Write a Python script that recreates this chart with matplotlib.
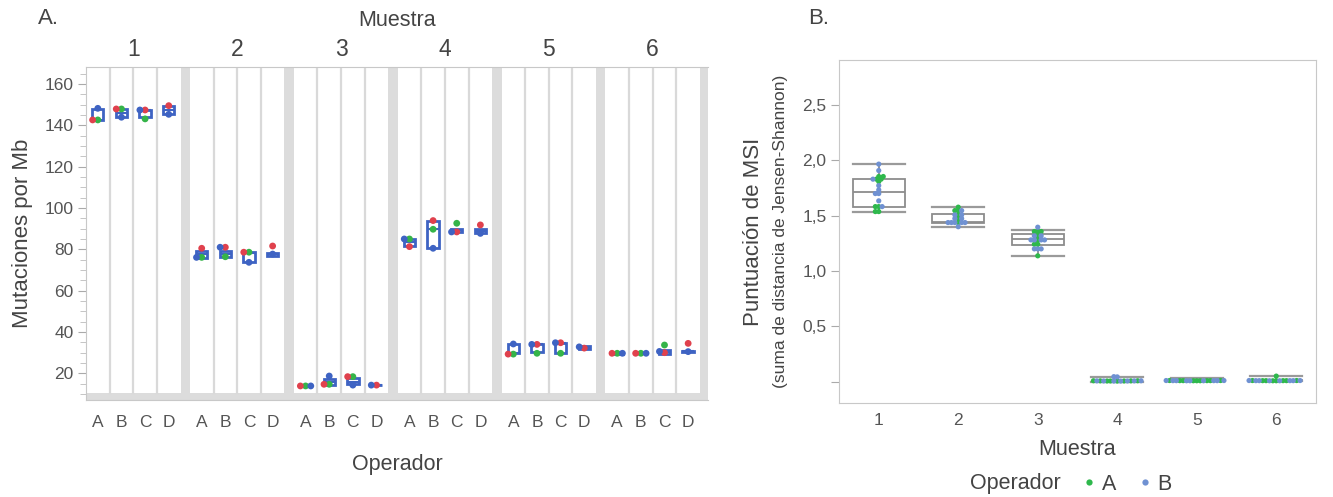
import numpy as np
import matplotlib
matplotlib.use("Agg")
import matplotlib.pyplot as plt
from matplotlib.lines import Line2D
from matplotlib.ticker import MultipleLocator, FuncFormatter

plt.rcParams['font.family'] = ['Liberation Sans', 'DejaVu Sans']

# ---------------- Panel A data: mutaciones por Mb ----------------
muestras = ['1', '2', '3', '4', '5', '6']
operadores_a = ['A', 'B', 'C', 'D']

# puntos por muestra (fila) y operador (columna); None = sin punto
pts_rojo = [[142.6, 147.9, 147.4, 149.5],
            [80.5, 81.0, 78.6, 81.6],
            [13.9, 14.7, 18.4, 14.3],
            [81.3, 93.9, 88.4, 91.8],
            [29.3, 34.0, 34.8, 32.2],
            [29.7, 29.7, 30.0, 34.5]]
pts_verde = [[142.6, 147.9, 143.1, None],
             [76.1, 76.4, 78.6, None],
             [13.9, 14.7, 18.4, None],
             [85.0, 89.7, 92.6, None],
             [29.3, 29.7, 29.7, None],
             [29.7, 29.7, 33.7, None]]
pts_azul = [[148.2, 143.9, 147.4, 145.3],
            [76.1, 81.0, 73.7, 77.7],
            [13.9, 18.7, 14.3, 14.3],
            [85.0, 80.5, 88.4, 87.7],
            [34.2, 34.0, 34.8, 32.8],
            [29.7, 29.7, 30.6, 30.5]]

# cajas: q1, mediana, q3
caja_q1 = [[142.6, 144.2, 144.2, 145.5],
           [75.8, 76.2, 74.0, 77.0],
           [13.9, 14.4, 14.6, 14.3],
           [81.8, 80.5, 88.3, 87.9],
           [29.7, 30.2, 30.0, 31.8],
           [29.5, 29.6, 29.5, 30.4]]
caja_med = [[142.6, 145.8, 147.4, 147.4],
            [77.7, 77.7, 78.4, 77.7],
            [13.9, 15.6, 16.0, 14.3],
            [83.6, 89.7, 89.3, 89.0],
            [29.7, 34.0, 34.6, 32.4],
            [29.7, 29.7, 30.3, 30.6]]
caja_q3 = [[148.0, 148.0, 147.6, 149.5],
           [79.2, 79.2, 78.6, 78.4],
           [13.9, 17.2, 17.6, 14.3],
           [84.8, 93.9, 90.0, 90.0],
           [34.0, 34.0, 34.6, 33.0],
           [29.9, 29.8, 31.1, 31.0]]

# ---------------- Panel B data: puntuacion de MSI ----------------
msi_verde = [[1.854, 1.854, 1.830, 1.830, 1.808, 1.582, 1.582, 1.537, 1.537],
             [1.577, 1.546, 1.546, 1.507, 1.474, 1.438],
             [1.357, 1.357, 1.357, 1.318, 1.281, 1.242, 1.242, 1.137],
             [0.006, 0.007, 0.005, 0.008, 0.006, 0.007, 0.006, 0.008],
             [0.009, 0.008, 0.009, 0.010, 0.008, 0.009, 0.009, 0.008, 0.010],
             [0.050, 0.009, 0.008, 0.010, 0.009, 0.008, 0.009, 0.010, 0.009]]
msi_azul = [[1.966, 1.908, 1.830, 1.772, 1.733, 1.700, 1.700, 1.634, 1.582],
            [1.546, 1.507, 1.507, 1.474, 1.474, 1.438, 1.438, 1.438, 1.438, 1.438, 1.400],
            [1.396, 1.318, 1.318, 1.281, 1.281, 1.281, 1.281, 1.200, 1.200, 1.200],
            [0.045, 0.043, 0.006, 0.005, 0.007, 0.006, 0.008, 0.005, 0.007],
            [0.009, 0.008, 0.010, 0.009, 0.008, 0.009, 0.010, 0.009, 0.008],
            [0.009, 0.008, 0.010, 0.009, 0.008, 0.009, 0.010, 0.009]]

msi_bigote_inf = [1.537, 1.396, 1.137, 0.000, 0.002, 0.002]
msi_q1 = [1.582, 1.432, 1.236, 0.004, 0.006, 0.006]
msi_med = [1.712, 1.447, 1.288, 0.007, 0.009, 0.009]
msi_q3 = [1.830, 1.514, 1.338, 0.010, 0.011, 0.011]
msi_bigote_sup = [1.966, 1.577, 1.369, 0.045, 0.036, 0.050]

ROJO = '#e0414d'
VERDE_A = '#35b449'
AZUL_A = '#3e63c3'
VERDE_B = '#2eb84c'
AZUL_B = '#6f91d2'
GRIS_BANDA = '#dcdcdc'
TXT = '#555555'


def swarm_offsets(vals, d, sx, sy):
    # sencillo beeswarm: d en pixeles, sx/sy pixeles por unidad
    vals = np.asarray(vals, dtype=float)
    order = np.argsort(vals, kind='stable')
    placed = []
    offs = np.zeros(len(vals))
    for i in order:
        y = vals[i] * sy
        cands = [0.0]
        for px, py in placed:
            dy = y - py
            if abs(dy) < d:
                dx = np.sqrt(d * d - dy * dy)
                cands += [px - dx, px + dx]
        cands.sort(key=abs)
        for c in cands:
            if all((c - px) ** 2 + (y - py) ** 2 >= d * d - 1e-6 for px, py in placed):
                break
        placed.append((c, y))
        offs[i] = c / sx
    return offs


W, H = 1333, 497
fig = plt.figure(figsize=(W / 100, H / 100), dpi=100)

# ================= Panel A =================
pitch = 4.394
x_max = 5 * pitch + 3.5 + 0.34
y_lo, y_hi = 7.1, 168.2
axA = fig.add_axes([86 / W, 1 - 400 / H, (708 - 86) / W, (400 - 67) / H])
axA.set_xlim(-0.5, x_max)
axA.set_ylim(y_lo, y_hi)

# bandas grises entre muestras y borde
for g in range(5):
    axA.axvspan(g * pitch + 3.5, (g + 1) * pitch - 0.5, color=GRIS_BANDA, lw=0, zorder=0)
axA.axvspan(5 * pitch + 3.5, x_max, color=GRIS_BANDA, lw=0, zorder=0)
axA.axhspan(y_lo, 10.4, color=GRIS_BANDA, lw=0, zorder=0)
for g in range(6):
    for k in range(3):
        axA.axvline(g * pitch + k + 0.5, ymin=(10.4 - y_lo) / (y_hi - y_lo),
                    color='#d9d9d9', lw=1.6, zorder=0.5)

sxA = 621 / (x_max + 0.5)
syA = 333 / (y_hi - y_lo)

stats, posA = [], []
for g in range(6):
    for k in range(4):
        stats.append({'q1': caja_q1[g][k], 'med': caja_med[g][k], 'q3': caja_q3[g][k],
                      'whislo': caja_q1[g][k], 'whishi': caja_q3[g][k], 'fliers': []})
        posA.append(g * pitch + k)
axA.bxp(stats, positions=posA, widths=0.48, showcaps=False, patch_artist=True,
        boxprops=dict(facecolor='white', edgecolor=AZUL_A, lw=2),
        medianprops=dict(color=AZUL_A, lw=1.5),
        whiskerprops=dict(lw=0), manage_ticks=False, zorder=2)

for g in range(6):
    for k in range(4):
        vals, cols = [], []
        for serie, c in ((pts_verde, VERDE_A), (pts_rojo, ROJO), (pts_azul, AZUL_A)):
            if serie[g][k] is not None:
                vals.append(serie[g][k])
                cols.append(c)
        offs = swarm_offsets(vals, 5.2, sxA, syA)
        axA.scatter(g * pitch + k + offs, vals, s=24, c=cols, lw=0, zorder=3)

axA.yaxis.set_major_locator(MultipleLocator(20))
axA.yaxis.set_minor_locator(MultipleLocator(5))
axA.set_yticks(np.arange(20, 161, 20))
axA.tick_params(axis='y', which='major', length=6, color='#aaaaaa', labelsize=12.5,
                labelcolor=TXT, pad=3)
axA.tick_params(axis='y', which='minor', length=4, color='#bbbbbb')
axA.set_xticks(posA)
axA.set_xticklabels(operadores_a * 6)
axA.tick_params(axis='x', length=0, labelsize=12.5, labelcolor=TXT, pad=11)
axA.set_ylabel('Mutaciones por Mb', fontsize=16, color='#444444', labelpad=8)
axA.set_xlabel('Operador', fontsize=15.5, color='#444444', labelpad=17)
axA.spines['right'].set_visible(False)
for s in ('left', 'top', 'bottom'):
    axA.spines[s].set_color('#c8c8c8')

top = axA.secondary_xaxis('top')
top.set_xticks([g * pitch + 1.5 for g in range(6)])
top.set_xticklabels(muestras)
top.tick_params(length=0, labelsize=16.5, labelcolor='#444444', pad=4)
top.set_xlabel('Muestra', fontsize=15.5, color='#444444', labelpad=9)
top.spines['top'].set_visible(False)

fig.text(38 / W, 1 - 18 / H, 'A.', fontsize=16, color='#444444', va='center')

# ================= Panel B =================
yb_lo, yb_hi = -0.193, 2.907
axB = fig.add_axes([839 / W, 1 - 403 / H, (1316 - 839) / W, (403 - 60) / H])
axB.set_xlim(-0.5, 5.5)
axB.set_ylim(yb_lo, yb_hi)

statsB = []
for i in range(6):
    statsB.append({'q1': msi_q1[i], 'med': msi_med[i], 'q3': msi_q3[i],
                   'whislo': msi_bigote_inf[i], 'whishi': msi_bigote_sup[i], 'fliers': []})
axB.bxp(statsB, positions=range(6), widths=0.655, capwidths=0.655, patch_artist=True,
        boxprops=dict(facecolor='white', edgecolor='#8c8c8c', lw=1.3),
        medianprops=dict(color='#8c8c8c', lw=1.3),
        whiskerprops=dict(color='#8c8c8c', lw=1.3),
        capprops=dict(color='#9a9a9a', lw=1.6), manage_ticks=False, zorder=2)

sxB = 477 / 6.0
syB = 343 / (yb_hi - yb_lo)
for i in range(6):
    vals = msi_verde[i] + msi_azul[i]
    cols = [VERDE_B] * len(msi_verde[i]) + [AZUL_B] * len(msi_azul[i])
    offs = swarm_offsets(vals, 3.4, sxB, syB)
    axB.scatter(i + offs, vals, s=14, c=cols, lw=0, zorder=3)

axB.set_xticks(range(6))
axB.set_xticklabels(muestras)
axB.set_yticks([0, 0.5, 1.0, 1.5, 2.0, 2.5])
axB.yaxis.set_major_formatter(FuncFormatter(
    lambda v, p: '' if abs(v) < 1e-9 else f'{v:.1f}'.replace('.', ',')))
axB.tick_params(axis='y', length=6, color='#aaaaaa', labelsize=12.5, labelcolor=TXT, pad=3)
axB.tick_params(axis='x', length=0, labelsize=12.5, labelcolor=TXT, pad=7)
for s in axB.spines.values():
    s.set_color('#c8c8c8')
axB.set_xlabel('Muestra', fontsize=15.5, color='#444444', labelpad=8)

axB.text(-0.18, 0.5, 'Puntuación de MSI', transform=axB.transAxes, rotation=90,
         ha='center', va='center', fontsize=16, color='#444444')
axB.text(-0.122, 0.5, '(suma de distancia de Jensen-Shannon)', transform=axB.transAxes,
         rotation=90, ha='center', va='center', fontsize=12.5, color='#444444')

fig.text(808 / W, 1 - 18 / H, 'B.', fontsize=16, color='#444444', va='center')

handles = [Line2D([], [], ls='', marker='o', ms=4.5, color=VERDE_B, mec='none'),
           Line2D([], [], ls='', marker='o', ms=4.5, color=AZUL_B, mec='none')]
fig.text(1015 / W, 1 - 484 / H, 'Operador', fontsize=15.5, color='#444444',
         ha='center', va='center')
fig.legend(handles, ['A', 'B'], loc='center left', bbox_to_anchor=(1083 / W, 1 - 484 / H),
           ncol=2, frameon=False, fontsize=15.5, handlelength=0.6, handletextpad=0.3,
           columnspacing=1.0, labelcolor='#444444', borderpad=0, borderaxespad=0)

fig.savefig('out.png', dpi=100)
